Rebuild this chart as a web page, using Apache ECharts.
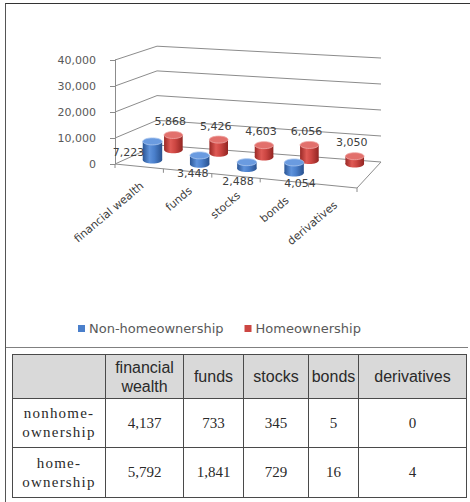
<!DOCTYPE html>
<html>
<head>
<meta charset="utf-8">
<script src="https://cdn.jsdelivr.net/npm/echarts@6/dist/echarts.min.js"></script>
<style>
html, body { margin: 0; padding: 0; background: #fff; width: 470px; height: 502px; overflow: hidden; }
#frame { position: absolute; left: 5px; top: 3px; width: 470px; height: 499px; box-sizing: border-box;
         border-left: 1.5px solid #555; border-top: 1.5px solid #333; }
#chart { position: absolute; left: 0; top: 0; width: 470px; height: 345px; }
#sep { position: absolute; left: 6px; top: 347px; width: 462px; height: 1px; background: #808080; }
#tbl { position: absolute; left: 12px; top: 354px; width: 455px; height: 143px;
       border-collapse: collapse; table-layout: fixed; }
#tbl th, #tbl td { border: 1px solid #4a4a4a; text-align: center; padding: 0; }
#tbl th { background: #d9d9d9; font: 16px "Liberation Sans", Arial, sans-serif; color: #2a2a2a;
          font-weight: normal; line-height: 19px; }
#tbl td { font: 15px "Liberation Serif", serif; color: #2a2a2a; line-height: 19px; }
#tbl td.rh { letter-spacing: 1.2px; }
</style>
</head>
<body>
<div id="frame"></div>
<div id="chart"></div>
<div id="sep"></div>
<table id="tbl"></table>
<script>
// ---- data ----
const categories = ['financial wealth', 'funds', 'stocks', 'bonds', 'derivatives'];
const legendNames = ['Non-homeownership', 'Homeownership'];
const nonHomeValues = [7223, 3448, 2488, 4054, null];
const homeValues = [5868, 5426, 4603, 6056, 3050];
const valueTicks = [0, 10000, 20000, 30000, 40000];

const tableRowLabels = ['nonhome-ownership', 'home-ownership'];
const tableNonHome = [4137, 733, 345, 5, 0];
const tableHome = [5792, 1841, 729, 16, 4];

// ---- 3D look: oblique projection of (category, depth, value) ----
const FRONT_SLOPE = 24 / 242;          // floor front edge drops to the right
const DEPTH_LEFT = [42, -19];           // depth direction at the left wall
const DEPTH_RIGHT = [24, -26];          // depth direction at the right edge
const DEPTH_SHRINK = 0.05;              // heights shrink a little towards the back-left
const ROW_DEPTH_FRONT = 0.33;           // row for the first series
const ROW_DEPTH_BACK = 0.85;            // row for the second series

function project(params, api, u, d, v) {
  const cs = params.coordSys;
  const y0 = api.coord([0, 0])[1];
  const h = y0 - api.coord([0, v])[1];
  const fx = cs.x + u * cs.width;
  const fy = y0 + u * cs.width * FRONT_SLOPE;
  const dx = DEPTH_LEFT[0] + (DEPTH_RIGHT[0] - DEPTH_LEFT[0]) * u;
  const dy = DEPTH_LEFT[1] + (DEPTH_RIGHT[1] - DEPTH_LEFT[1]) * u;
  const k = 1 - DEPTH_SHRINK * d * (1 - u);
  return [fx + d * dx, fy + d * dy - h * k];
}
function catU(params, api, i) {
  const cs = params.coordSys;
  return (api.coord([i, 0])[0] - cs.x) / cs.width;
}

const GRID_LINE = '#8c8c8c';
const TEXT_COLOR = '#404040';
const SMALL_FONT = '11px "DejaVu Sans", sans-serif';

const palettes = {
  blue: {
    body: [{offset: 0, color: '#2a5696'}, {offset: 0.35, color: '#5f93dc'}, {offset: 0.6, color: '#4a7fcb'}, {offset: 1, color: '#29528f'}],
    top: '#6a9be0', rim: '#a9c5ee', legend: '#4a7fcb'
  },
  red: {
    body: [{offset: 0, color: '#9a2926'}, {offset: 0.35, color: '#df5a55'}, {offset: 0.6, color: '#cc4642'}, {offset: 1, color: '#922522'}],
    top: '#e2706c', rim: '#efa7a4', legend: '#cc4642'
  }
};

// label nudges for the front row (relative to the cylinder base)
const frontLabelShift = [[-24, -7], [-7, 9], [-9, 13], [6, 11], [0, 10]];

function cylinderRenderer(depth, pal, labelMode) {
  return function (params, api) {
    const i = api.value(0), v = api.value(1);
    if (v == null || isNaN(v)) return null;
    const u = catU(params, api, i);
    const base = project(params, api, u, depth, 0);
    const top = project(params, api, u, depth, v);
    const w = 20 * (1 - 0.08 * depth), rx = w / 2, ry = 3.5;
    const grad = new echarts.graphic.LinearGradient(0, 0, 1, 0, pal.body);
    let lx, ly;
    if (labelMode === 'above') { lx = top[0] - 3; ly = top[1] - ry - 10; }
    else { const s = frontLabelShift[i]; lx = base[0] + s[0]; ly = base[1] + s[1]; }
    return {
      type: 'group',
      children: [
        {type: 'ellipse', shape: {cx: base[0], cy: base[1], rx: rx, ry: ry}, style: {fill: grad}},
        {type: 'rect', shape: {x: base[0] - rx, y: top[1], width: w, height: base[1] - top[1]}, style: {fill: grad}},
        {type: 'ellipse', shape: {cx: top[0], cy: top[1], rx: rx, ry: ry}, style: {fill: pal.top, stroke: pal.rim, lineWidth: 0.8}},
        {type: 'text', x: lx, y: ly, style: {text: v.toLocaleString('en-US'), font: SMALL_FONT, fill: TEXT_COLOR, align: 'center', verticalAlign: 'middle'}}
      ]
    };
  };
}

const option = {
  animation: false,
  grid: {left: 115, top: 60, width: 242, height: 104, containLabel: false},
  xAxis: {type: 'category', data: categories, show: false},
  yAxis: {
    type: 'value', min: 0, max: 40000, interval: 10000,
    axisLine: {show: true, lineStyle: {color: GRID_LINE, width: 1}},
    axisTick: {show: true, length: 5, lineStyle: {color: GRID_LINE}},
    splitLine: {show: false},
    axisLabel: {margin: 19, color: '#595959', fontFamily: 'DejaVu Sans', fontSize: 11,
                formatter: v => v.toLocaleString('en-US')}
  },
  legend: {
    data: legendNames, left: 78, top: 322, icon: 'rect', itemWidth: 7, itemHeight: 7, itemGap: 21,
    padding: 0, selectedMode: false,
    textStyle: {fontFamily: 'DejaVu Sans', fontSize: 13, color: '#595959', padding: [0, 0, 0, -1]}
  },
  series: [
    { // side and back walls: one gridline per tick value
      type: 'custom', name: 'walls', silent: true, clip: false, z: 1,
      data: valueTicks.map(v => [0, v]),
      renderItem: function (params, api) {
        const v = api.value(1);
        const a = project(params, api, 0, 0, v);
        const b = project(params, api, 0, 1, v);
        const c = project(params, api, 1, 1, v);
        return {type: 'polyline', shape: {points: [a, b, c]}, style: {stroke: GRID_LINE, lineWidth: 1, fill: null}};
      }
    },
    { // floor front and right edges with category ticks
      type: 'custom', name: 'floor', silent: true, clip: false, z: 1,
      data: [[0, 0]],
      renderItem: function (params, api) {
        const fl = project(params, api, 0, 0, 0);
        const fr = project(params, api, 1, 0, 0);
        const br = project(params, api, 1, 1, 0);
        const children = [
          {type: 'polyline', shape: {points: [fl, fr, br]}, style: {stroke: GRID_LINE, lineWidth: 1, fill: null}}
        ];
        for (let k = 0; k <= categories.length; k++) {
          const p = project(params, api, k / categories.length, 0, 0);
          children.push({type: 'line', shape: {x1: p[0], y1: p[1], x2: p[0], y2: p[1] + 4}, style: {stroke: GRID_LINE, lineWidth: 1}});
        }
        return {type: 'group', children: children};
      }
    },
    {
      type: 'custom', name: legendNames[1], clip: false, z: 2,
      itemStyle: {color: palettes.red.legend},
      data: homeValues.map((v, i) => [i, v]).filter(d => d[1] != null),
      renderItem: cylinderRenderer(ROW_DEPTH_BACK, palettes.red, 'above')
    },
    {
      type: 'custom', name: legendNames[0], clip: false, z: 3,
      itemStyle: {color: palettes.blue.legend},
      data: nonHomeValues.map((v, i) => [i, v]).filter(d => d[1] != null),
      renderItem: cylinderRenderer(ROW_DEPTH_FRONT, palettes.blue, 'shift')
    },
    { // category names along the floor front edge
      type: 'custom', name: 'categoryLabels', silent: true, clip: false, z: 4,
      data: categories.map((c, i) => [i, 0]),
      renderItem: function (params, api) {
        const i = api.value(0);
        const p = project(params, api, catU(params, api, i), 0, 0);
        return {
          type: 'text', x: p[0] + 3, y: p[1] + 18, rotation: 40 * Math.PI / 180,
          style: {text: categories[i], font: SMALL_FONT, fill: TEXT_COLOR, align: 'right', verticalAlign: 'middle'}
        };
      }
    }
  ]
};

const chart = echarts.init(document.getElementById('chart'), null, {renderer: 'svg'});
chart.setOption(option);

// ---- summary table ----
(function buildTable() {
  const tbl = document.getElementById('tbl');
  const widths = [93, 78, 60, 65, 50, 108];
  const cg = document.createElement('colgroup');
  widths.forEach(w => { const c = document.createElement('col'); c.style.width = w + 'px'; cg.appendChild(c); });
  tbl.appendChild(cg);
  const head = document.createElement('tr');
  head.style.height = '44px';
  head.appendChild(document.createElement('th'));
  categories.forEach(c => { const th = document.createElement('th'); th.textContent = c; head.appendChild(th); });
  tbl.appendChild(head);
  [tableNonHome, tableHome].forEach((row, r) => {
    const tr = document.createElement('tr');
    tr.style.height = r === 0 ? '49px' : '50px';
    const rh = document.createElement('td');
    rh.className = 'rh';
    rh.textContent = tableRowLabels[r];
    tr.appendChild(rh);
    row.forEach(v => { const td = document.createElement('td'); td.textContent = v.toLocaleString('en-US'); tr.appendChild(td); });
    tbl.appendChild(tr);
  });
})();
</script>
</body>
</html>
